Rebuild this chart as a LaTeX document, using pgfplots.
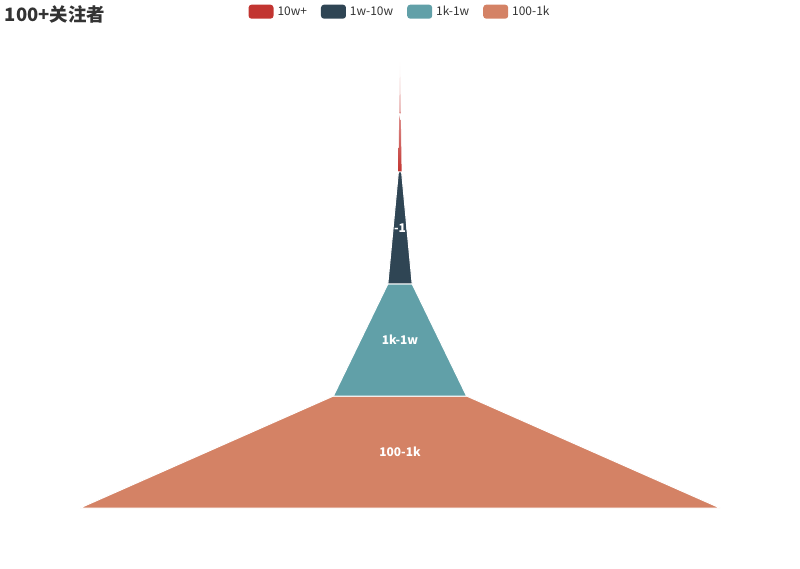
\documentclass[border=0pt]{standalone}
\usepackage{fontspec}
\setmainfont{Noto Sans CJK SC}
\usepackage{pgfplots}
\pgfplotsset{compat=1.18}

\definecolor{c1}{HTML}{C23531}
\definecolor{c2}{HTML}{2F4554}
\definecolor{c3}{HTML}{61A0A8}
\definecolor{c4}{HTML}{D48265}
\definecolor{txt}{HTML}{333333}

% funnel values (ascending, 100-1k = max); widths = value/1000 * 640px
% segment y in px from bottom: 60..172..284..396..508
\begin{document}
\begin{tikzpicture}
\begin{axis}[
    scale only axis,
    width=800bp, height=568bp,
    xmin=-625, xmax=625,
    ymin=0, ymax=568,
    hide axis,
    clip=false,
    legend columns=4,
    legend style={at={(rel axis cs:0.5,1)}, anchor=north, yshift=-2bp,
        draw=none, fill=none, text=txt,
        font=\fontsize{12}{13}\selectfont,
        /tikz/every odd column/.append style={column sep=2bp},
        /tikz/every even column/.append style={column sep=12bp}},
    legend image code/.code={\fill[#1, draw=none, rounded corners=3bp] (0bp,-7bp) rectangle (25bp,7bp);},
]
\path[draw=none] (rel axis cs:0,0) rectangle (rel axis cs:1,1);

\addlegendimage{fill=c1, draw=none}
\addlegendentry{10w+}
\addlegendimage{fill=c2, draw=none}
\addlegendentry{1w-10w}
\addlegendimage{fill=c3, draw=none}
\addlegendentry{1k-1w}
\addlegendimage{fill=c4, draw=none}
\addlegendentry{100-1k}

% 100-1k: 1000 -> next 208
\addplot[forget plot, fill=c4, draw=white, line width=1bp]
  coordinates {(-500,60) (500,60) (104,172) (-104,172)} --cycle;
% 1k-1w: 208 -> next 38
\addplot[forget plot, fill=c3, draw=white, line width=1bp]
  coordinates {(-104,172) (104,172) (19,284) (-19,284)} --cycle;
% 1w-10w: 38 -> next 5
\addplot[forget plot, fill=c2, draw=white, line width=1bp]
  coordinates {(-19,284) (19,284) (2.5,396) (-2.5,396)} --cycle;
% 10w+: 5 -> 0
\addplot[forget plot, top color=white, bottom color=c1, middle color=c1!55, draw=none]
  coordinates {(-2.5,396.5) (2.5,396.5) (0,508) (0,508)} --cycle;

\node[text=white, font=\bfseries\fontsize{12}{13}\selectfont] at (axis cs:0,116) {100-1k};
\node[text=white, font=\bfseries\fontsize{12}{13}\selectfont] at (axis cs:0,228) {1k-1w};
\node[text=white, font=\bfseries\fontsize{12}{13}\selectfont] at (axis cs:0,340) {1w-10w};
\node[text=white, font=\bfseries\fontsize{12}{13}\selectfont] at (axis cs:0,452) {10w+};

\node[anchor=north west, inner sep=0pt, text=txt, font=\bfseries\fontsize{18.5}{20}\selectfont]
  at (rel axis cs:0.006,0.99) {100+关注者};
\end{axis}
\end{tikzpicture}
\end{document}
